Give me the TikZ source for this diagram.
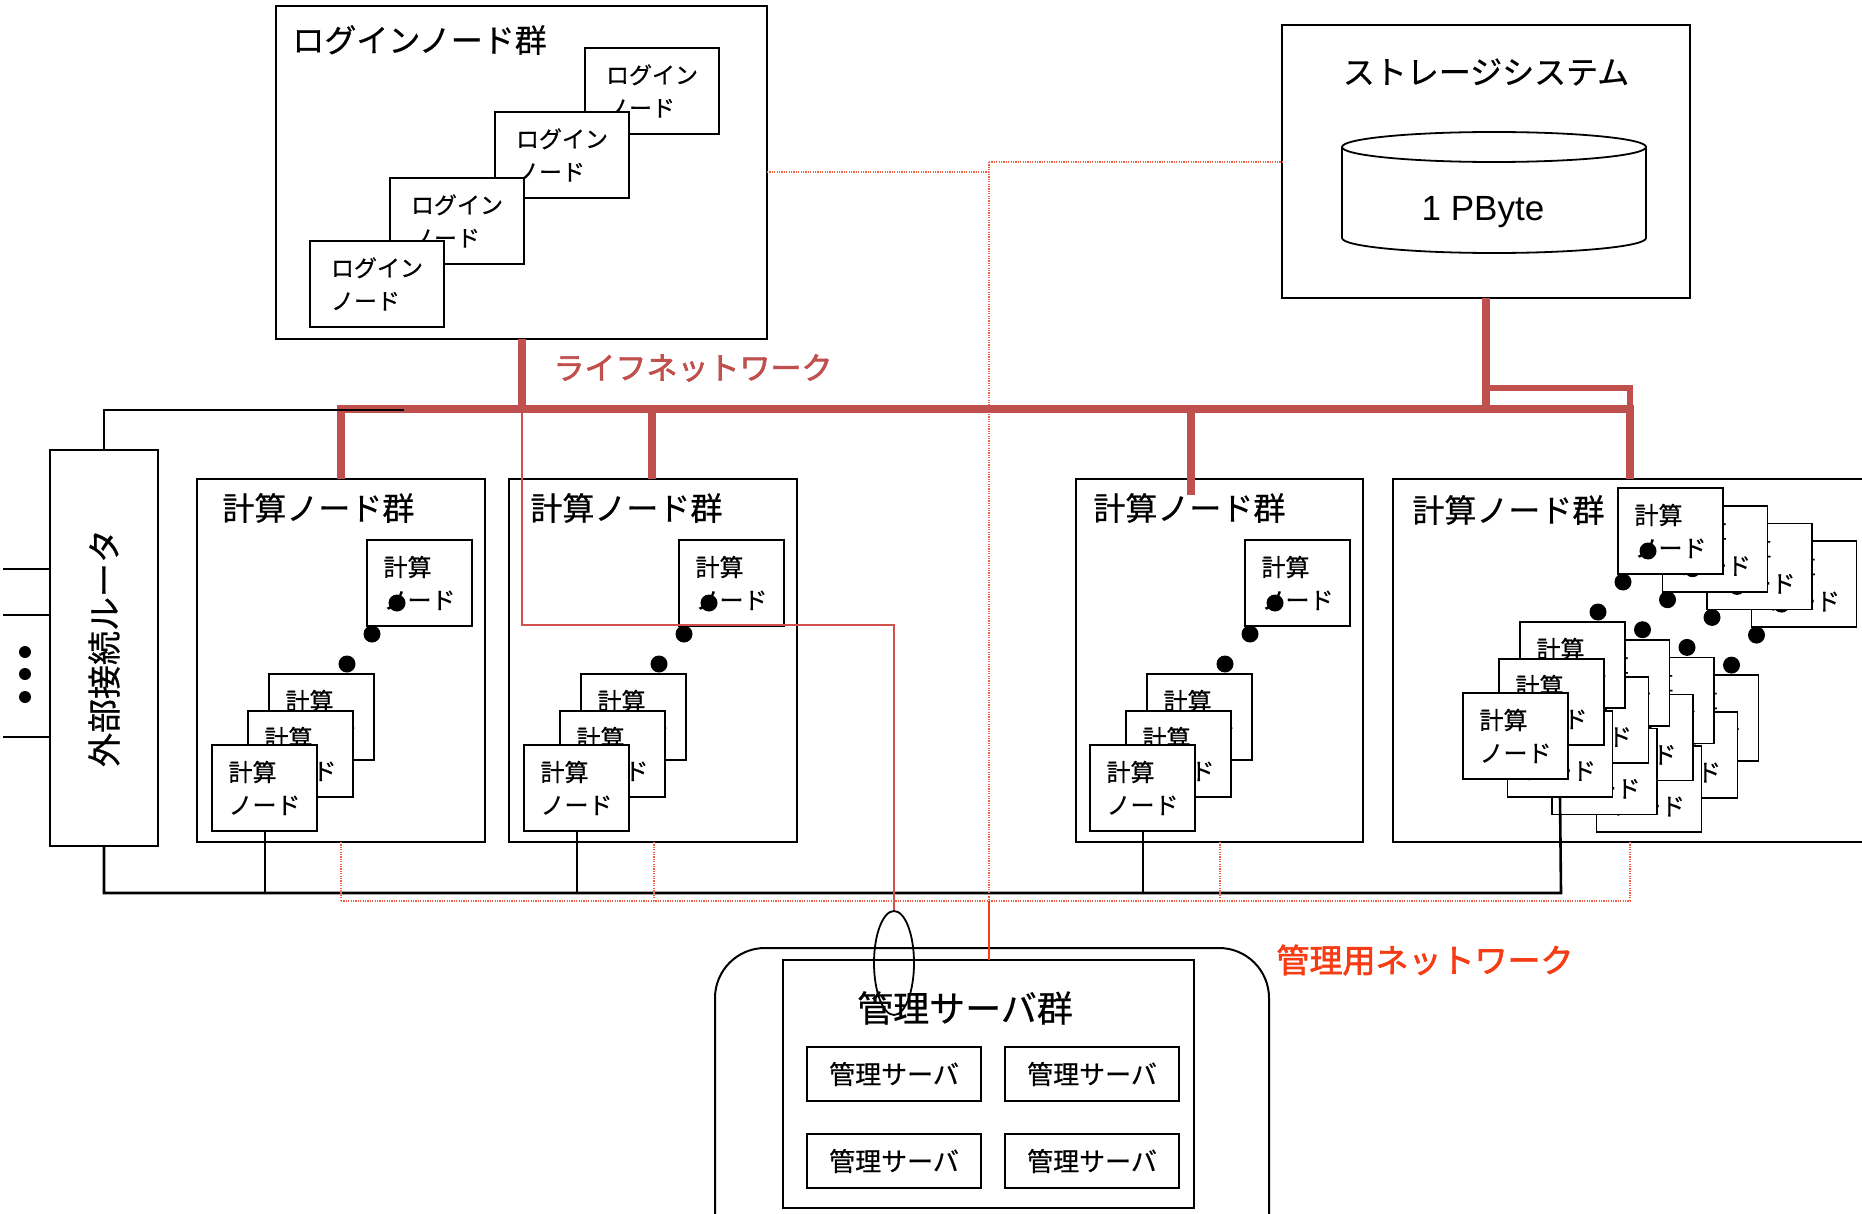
\documentclass[tikz,border=0pt]{standalone}
\usepackage{fontspec}
\setmainfont[FakeBold=0.6]{Noto Sans CJK JP}
\newfontfamily\jpb[FakeBold=2]{Noto Sans CJK JP}
\newfontfamily\latinf{Liberation Sans}
\usetikzlibrary{shapes.geometric}
\definecolor{lifec}{RGB}{192,80,77}
\definecolor{mgc}{RGB}{245,60,20}
\definecolor{dotc}{RGB}{240,95,70}
\definecolor{thinred}{RGB}{210,80,75}
\tikzset{
  grp/.style={draw, line width=1pt, anchor=north west, inner sep=0pt, outer sep=0pt},
  cn/.style={draw, fill=white, line width=0.8pt, anchor=north west, inner sep=0pt, outer sep=0pt,
    minimum width=52.5pt, minimum height=43pt, align=left, font=\fontsize{12}{16.5}\selectfont},
  ln/.style={draw, fill=white, line width=0.8pt, anchor=north west, inner sep=0pt, outer sep=0pt,
    minimum width=67pt, minimum height=43pt, align=left, font=\fontsize{11.5}{16.5}\selectfont},
  sv/.style={draw, fill=white, line width=0.8pt, anchor=north west, inner sep=0pt, outer sep=0pt,
    minimum width=87pt, minimum height=27pt, font=\fontsize{13}{15}\selectfont},
  dotn/.style={circle, fill=black, inner sep=0pt, minimum size=8.5pt},
  ttl/.style={inner sep=0pt, font=\fontsize{16}{18}\selectfont},
  bk/.style={line width=1pt, black},
  bus/.style={line width=1.3pt, black},
  life/.style={line width=4pt, lifec},
  lifethin/.style={line width=2.8pt, lifec},
  mgline/.style={line width=0.7pt, thinred},
  mgsolid/.style={line width=0.7pt, mgc},
  mgdot/.style={line width=0.6pt, dotc, dash pattern=on 0.6pt off 0.6pt},
}
\newcommand\cstack[3]{%
  \begin{scope}[shift={(#2,#3)}]
    \node[cn] (#1top) at (155,-205) {計算\\ノード};
    \node[dotn] (#1tdot) at (185,-142) {};
    \node[dotn] (#1da) at (160,-111) {};
    \node[dotn] (#1db) at (135,-81) {};
    \node[cn] (#1back) at (57,-71) {計算\\ノード};
    \node[cn] (#1mid) at (36,-34) {計算\\ノード};
    \node[cn] (#1front) at (0,0) {計算\\ノード};
  \end{scope}}
\begin{document}
\begin{tikzpicture}[x=0.5pt, y=-0.5pt]
\useasboundingbox (0,0) rectangle (1862,1214);
\fill[white] (0,0) rectangle (1862,1214);

% ---------- login group ----------
\node[grp, minimum width=245.5pt, minimum height=166.5pt] (login) at (276,6) {};
\node[ttl, anchor=west] (logintitle) at (292,40) {ログインノード群};
\node[ln] (lnA) at (585,48) {ログイン\\ノード};
\node[ln] (lnB) at (495,112) {ログイン\\ノード};
\node[ln] (lnC) at (390,178) {ログイン\\ノード};
\node[ln] (lnD) at (310,241) {ログイン\\ノード};

% ---------- storage ----------
\node[grp, minimum width=204pt, minimum height=136.5pt] (storage) at (1282,25) {};
\node[ttl] (stitle) at (1486,72) {ストレージシステム};
\draw[line width=0.9pt] (1342,147) -- (1342,238) arc[start angle=180, end angle=360, x radius=76pt, y radius=7.5pt] -- (1646,147);
\draw[line width=0.9pt] (1494,147) ellipse [x radius=76pt, y radius=7.5pt];
\node[inner sep=0pt, font=\latinf\fontsize{17.5}{20}\selectfont] (pbyte) at (1483,212) {1 PByte};

% ---------- router ----------
\node[grp, minimum width=54pt, minimum height=198pt] (router) at (50,450) {};
\node[inner sep=0pt, rotate=90, font=\fontsize{17}{19}\selectfont] (rtext) at (104,648) {外部接続ルータ};
\coordinate (ext1) at (3,569);
\coordinate (ext2) at (3,615);
\coordinate (ext3) at (3,737);
\draw[bk] (ext1) -- (ext1 -| router.west);
\draw[bk] (ext2) -- (ext2 -| router.west);
\draw[bk] (ext3) -- (ext3 -| router.west);
\node[circle, fill=black, inner sep=0pt, minimum size=6pt] (ed1) at (25,652) {};
\node[circle, fill=black, inner sep=0pt, minimum size=6pt] (ed2) at (25,674) {};
\node[circle, fill=black, inner sep=0pt, minimum size=6pt] (ed3) at (25,697) {};

% ---------- compute groups ----------
\node[grp, minimum width=144pt, minimum height=181.5pt] (g1) at (197,479) {};
\node[ttl, anchor=west] (g1t) at (222,508) {計算ノード群};
\cstack{g1}{212}{745}
\node[grp, minimum width=144pt, minimum height=181.5pt] (g2) at (509,479) {};
\node[ttl, anchor=west] (g2t) at (530,508) {計算ノード群};
\cstack{g2}{524}{745}
\node[grp, minimum width=143.5pt, minimum height=181.5pt] (g3) at (1076,479) {};
\node[ttl, anchor=west] (g3t) at (1093,508) {計算ノード群};
\cstack{g3}{1090}{745}
\node[grp, minimum width=245pt, minimum height=181.5pt] (g4) at (1393,479) {};
\node[ttl, anchor=west] (g4t) at (1412,510) {計算ノード群};
\cstack{g4d}{1596.5}{746.1}
\cstack{g4c}{1552}{728.4}
\cstack{g4b}{1507.5}{710.7}
\cstack{g4a}{1463}{693}

% ---------- management ----------
\node[draw, line width=1pt, rounded corners=25pt, anchor=north west, inner sep=0pt, minimum width=277pt, minimum height=177pt] (mgarea) at (714,947) {};
\node[grp, minimum width=205.5pt, minimum height=124pt] (mgbox) at (783,960) {};
\node[inner sep=0pt, font=\fontsize{18}{20}\selectfont] (mgtitle) at (965,1008) {管理サーバ群};
\node[sv] (sv1) at (807,1047) {管理サーバ};
\node[sv] (sv2) at (1005,1047) {管理サーバ};
\node[sv] (sv3) at (807,1134) {管理サーバ};
\node[sv] (sv4) at (1005,1134) {管理サーバ};
\node[draw, line width=0.9pt, ellipse, inner sep=0pt, minimum width=20pt, minimum height=52pt] (conn) at (894,963) {};

% ---------- black compute network ----------
\coordinate (busL) at (104,893);
\coordinate (busR) at (1561,893);
\draw[bus] (router.south) -- (busL) -- (busR) -- (g4bfront.south);
\draw[bk] (g1front.south) -- (g1front.south |- busL);
\draw[bk] (g2front.south) -- (g2front.south |- busL);
\draw[bk] (g3front.south) -- (g3front.south |- busL);

% ---------- management network ----------
\coordinate (m1) at (522,625);
\coordinate (m2) at (894,625);
\draw[mgline] (login.south -| m1) -- (m1) -- (m2) -- (conn.north);
\coordinate (dl) at (341,901);
\coordinate (dr) at (1630,901);
\draw[mgdot] (dl) -- (dr);
\draw[mgdot] (g1.south -| dl) -- (dl);
\draw[mgdot] (g2.south -| 654,0) -- (654,901);
\draw[mgdot] (g3.south -| 1220,0) -- (1220,901);
\draw[mgdot] (g4.south -| dr) -- (dr);
\coordinate (v1) at (989,172);
\coordinate (v2) at (989,162);
\coordinate (v3) at (989,901);
\draw[mgdot] (login.east |- v1) -- (v1);
\draw[mgdot] (v2) -- (storage.west |- v2);
\draw[mgdot] (v2) -- (v3);
\draw[mgsolid] (v3) -- (mgbox.north -| v3);

% ---------- lifeline network ----------
\draw[life] (login.south -| 522,0) -- (522,409);
\draw[life, line join=miter] (g1.north -| 341,0) -- (341,409) -- (1630,409) -- (g4.north -| 1630,0);
\draw[life] (652,409) -- (g2.north -| 652,0);
\draw[life] (1191,409) -- (1191,495);
\draw[life] (storage.south -| 1486,0) -- (1486,409);
\draw[lifethin, line join=miter] (1486,388) -- (1630,388) -- (1630,409);
\node[inner sep=0pt, text=lifec, font=\jpb\fontsize{15.5}{18}\selectfont] (lifelabel) at (693,368) {ライフネットワーク};
\node[inner sep=0pt, text=mgc, font=\jpb\fontsize{16.5}{18}\selectfont] (mglabel) at (1425,960) {管理用ネットワーク};

% router uplink drawn over the lifeline
\draw[bk] (router.north) -- (104,410) -- (404,410);
\end{tikzpicture}
\end{document}
